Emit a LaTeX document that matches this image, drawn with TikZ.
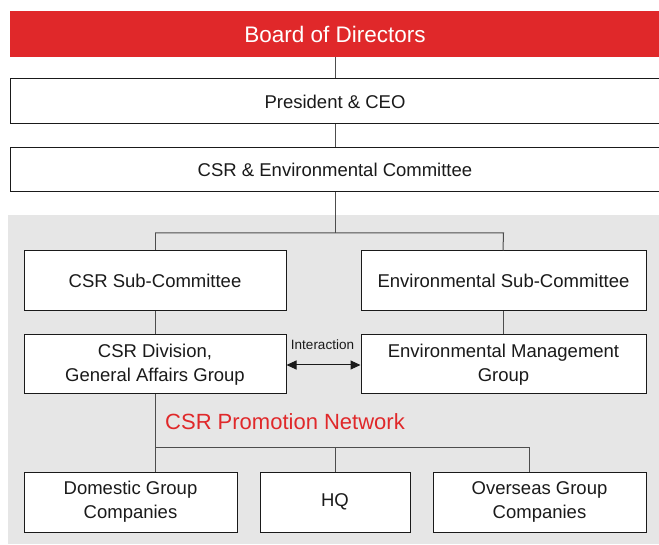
\documentclass[tikz,border=0pt]{standalone}
\usepackage{fontspec}
\setmainfont{Liberation Sans}
\usetikzlibrary{arrows.meta}
\definecolor{boardred}{HTML}{E0282A}
\definecolor{bggray}{HTML}{E6E6E6}
\definecolor{linegray}{HTML}{4D4D4D}
\definecolor{txt}{HTML}{1A1A1A}
\begin{document}
\begin{tikzpicture}[x=1pt,y=-1pt,
  box/.style={draw=txt,line width=1pt,fill=white,text=txt,font=\fontsize{18.5}{24}\selectfont,align=center,inner sep=0pt},
  conn/.style={draw=linegray,line width=1pt}]
\useasboundingbox (0,0) rectangle (659,545);
\fill[bggray] (8,215) rectangle (662,544);
\node[fill=boardred,text=white,minimum width=650pt,minimum height=46pt,inner sep=0pt,font=\fontsize{22.5}{26}\selectfont] (board) at (335,34) {Board of Directors};
\node[box,minimum width=650pt,minimum height=45pt] (pres) at (335,101.5) {President \& CEO};
\node[box,minimum width=650pt,minimum height=44pt] (cmt) at (335,170) {CSR \& Environmental Committee};
\node[box,minimum width=262pt,minimum height=60pt] (csrsub) at (155,281) {CSR Sub-Committee};
\node[box,minimum width=285pt,minimum height=60pt] (envsub) at (503.5,281) {Environmental Sub-Committee};
\node[box,minimum width=262pt,minimum height=59pt] (csrdiv) at (155,364.5) {CSR Division,\\General Affairs Group};
\node[box,minimum width=285pt,minimum height=59pt] (envmgmt) at (503.5,364.5) {Environmental Management\\Group};
\node[box,minimum width=213pt,minimum height=60pt] (dom) at (130.5,502) {Domestic Group\\Companies};
\node[box,minimum width=150pt,minimum height=60pt] (hq) at (335,502) {HQ};
\node[box,minimum width=213pt,minimum height=60pt] (ovs) at (539.5,502) {Overseas Group\\Companies};
\node[text=boardred,font=\fontsize{22}{26}\selectfont,anchor=west,inner sep=0pt] (net) at (165,422) {CSR Promotion Network};
\node[text=txt,font=\fontsize{13.5}{16}\selectfont,inner sep=0pt] (inter) at (322.5,345) {Interaction};
\coordinate (b1) at (335,233);
\coordinate (b2) at (155,447);
\draw[conn] (board) -- (pres);
\draw[conn] (pres) -- (cmt);
\draw[conn] (cmt.south) -- (b1);
\draw[conn] (b1 -| csrsub) -- (b1 -| envsub.south) -- (envsub.north -| 503,0);
\draw[conn] (b1 -| csrsub) -- (csrsub.north);
\draw[conn] (csrsub) -- (csrdiv);
\draw[conn] (envsub.south -| 503,0) -- (envmgmt.north -| 503,0);
\draw[conn] (csrdiv.south) -- (b2) -- (b2 -| 529,0) -- (dom.north -| 529,0);
\draw[conn] (b2) -- (dom.north -| b2);
\draw[conn] (b2 -| hq) -- (hq.north);
\draw[conn,{Triangle[length=10pt,width=9pt]}-{Triangle[length=10pt,width=9pt]},draw=txt,fill=txt] (csrdiv.east |- 0,365) -- (envmgmt.west |- 0,365);
\end{tikzpicture}
\end{document}
